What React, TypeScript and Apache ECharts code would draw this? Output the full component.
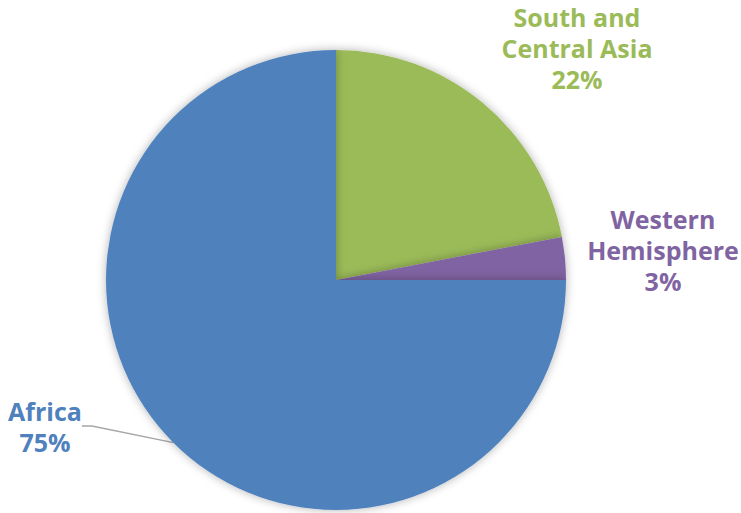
import React, { useEffect, useRef } from "react";
import * as echarts from "echarts";

const categories = ["South and\nCentral Asia", "Western\nHemisphere", "Africa"];
const values = [22, 3, 75];
const colors = ["#9BBB59", "#8064A2", "#4F81BD"];

export default function App() {
  const ref = useRef<HTMLDivElement>(null);
  useEffect(() => {
    document.body.style.margin = "0";
    const chart = echarts.init(ref.current!, null, { renderer: "svg" });
    const labelPos = [
      { x: 577, y: 48 },
      { x: 663, y: 250 },
      { x: 45, y: 426 },
    ];
    chart.setOption({
      animation: false,
      backgroundColor: "#ffffff",
      series: [
        {
          type: "pie",
          center: [336, 280],
          radius: 230,
          startAngle: 90,
          clockwise: true,
          data: categories.map((c, i) => ({
            name: c,
            value: values[i],
            itemStyle: { color: colors[i] },
            label: { color: colors[i] },
            labelLine: { show: i === 2 },
          })),
          itemStyle: {
            shadowBlur: 10,
            shadowColor: "rgba(0,0,0,0.3)",
          },
          label: {
            show: true,
            position: "outside",
            formatter: "{b}\n{d}%",
            fontFamily: "'Open Sans', Lato, sans-serif",
            fontWeight: "bold",
            fontSize: 25,
            lineHeight: 31,
            align: "center",
            overflow: "none",
          },
          labelLine: {
            show: true,
            length: 10,
            length2: 10,
            lineStyle: { color: "#A6A6A6", width: 1.5 },
          },
          labelLayout: (params: any) => {
            const p = labelPos[params.dataIndex];
            return { x: p.x, y: p.y, align: "center", verticalAlign: "middle" };
          },
          emphasis: { disabled: true },
        },
      ],
    });
    return () => chart.dispose();
  }, []);
  return <div ref={ref} style={{ width: 741, height: 513, position: "absolute", left: 0, top: 0 }} />;
}
